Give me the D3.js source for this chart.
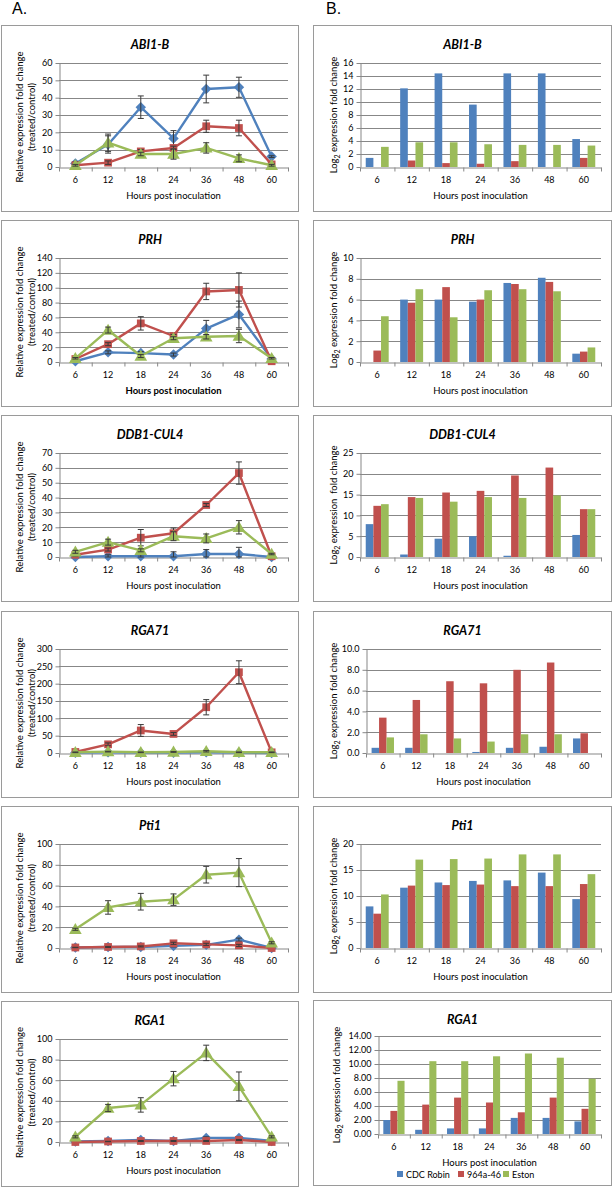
<!DOCTYPE html>
<html>
<head>
<meta charset="utf-8">
<script src="https://cdn.jsdelivr.net/npm/d3@7"></script>
<style>
  body { margin: 0; background: #fff; }
  text { font-family: Lato, "Open Sans", sans-serif; fill: #000; }
</style>
</head>
<body>
<svg id="fig" width="613" height="1188"></svg>
<script>
const hours = ['6', '12', '18', '24', '36', '48', '60']
const cultivars = ['CDC Robin', '964a-46', 'Eston']
const colors = ['#4F81BD', '#C0504D', '#9BBB59']
const genes = ['ABI1-B', 'PRH', 'DDB1-CUL4', 'RGA71', 'Pti1', 'RGA1']

// relative fold change (A), one row per cultivar
const abi1Fold = [[2, 13, 34.5, 16.5, 45, 46, 6], [1, 2.5, 9, 11, 23.5, 22.5, 1.5], [1, 14, 7.5, 7.5, 11, 5, 1]]
const abi1Err = [[1, 5, 6.5, 4.5, 8, 5.8, 0.5], [0.5, 1, 1, 1, 3.5, 4.5, 0.5], [0.5, 5, 1, 3, 3, 2, 0.5]]
const prhFold = [[1, 13, 12, 10, 45, 64, 4], [4, 24, 52, 35, 95, 97, 1], [5, 43, 8, 32, 34, 35, 5]]
const prhErr = [[1, 2, 2, 2, 11, 18, 1], [1, 2, 9, 2, 11, 23, 1], [1, 4, 2, 2, 3, 9, 1]]
const ddb1Fold = [[0, 0.5, 0.5, 0.5, 2, 2, 0], [1.5, 5, 13, 16, 35, 56.5, 0.5], [3.5, 10, 4.5, 14, 12.5, 20, 2]]
const ddb1Err = [[0.5, 1, 1, 3, 3, 4.5, 0], [1, 1, 5.5, 3.5, 1, 7.5, 0.5], [1, 2, 1, 3, 3, 4.5, 0.5]]
const rga71Fold = [[1, 2, 1, 1, 2, 1, 0], [3, 25, 65, 55, 132, 233, 2], [2, 4, 2, 3, 5, 2, 2]]
const rga71Err = [[0.5, 1, 0.5, 0.5, 1, 0.5, 0], [2, 4, 17, 4, 22, 33, 1], [1, 1, 1, 1, 2, 1, 1]]
const pti1Fold = [[0.5, 1, 1, 2, 3, 8, 0], [0.5, 1, 1.5, 4.5, 3.5, 2.5, 0], [18, 39, 44.5, 46.5, 70.5, 72.5, 5]]
const pti1Err = [[0.2, 0.5, 0.5, 1, 1, 1.5, 0], [0.2, 0.5, 0.5, 1, 1, 1, 0], [1, 6.5, 8, 5.5, 8, 13.5, 1]]
const rga1Fold = [[0.5, 1, 2, 1, 4, 4, 1], [0, 0.5, 1, 1, 1, 2, 0], [5, 33, 36, 61.5, 86.5, 54, 5]]
const rga1Err = [[0.2, 0.5, 0.5, 0.5, 1, 1, 0.2], [0, 0.2, 0.5, 0.5, 0.5, 0.5, 0], [1, 3.5, 7, 7, 7.5, 14, 1]]

// log2 fold change (B)
const abi1Log2 = [[1.4, 12.1, 14.4, 9.6, 14.4, 14.4, 4.3], [0, 1.0, 0.6, 0.5, 0.9, 0, 1.4], [3.1, 3.8, 3.8, 3.5, 3.4, 3.4, 3.3]]
const prhLog2 = [[0, 6.0, 6.0, 5.8, 7.6, 8.1, 0.8], [1.1, 5.7, 7.2, 6.0, 7.5, 7.7, 1.0], [4.4, 7.0, 4.3, 6.9, 7.0, 6.8, 1.4]]
const ddb1Log2 = [[7.9, 0.6, 4.4, 5.0, 0.3, 0, 5.3], [12.3, 14.4, 15.5, 15.9, 19.6, 21.5, 11.5], [12.7, 14.2, 13.3, 14.4, 14.2, 14.8, 11.5]]
const rga71Log2 = [[0.5, 0.5, 0, 0.1, 0.5, 0.6, 1.4], [3.4, 5.1, 6.9, 6.7, 8.0, 8.7, 1.9], [1.5, 1.8, 1.4, 1.1, 1.8, 1.8, 0]]
const pti1Log2 = [[8.0, 11.6, 12.6, 12.9, 13.0, 14.5, 9.4], [6.6, 12.0, 12.1, 12.2, 11.9, 11.9, 12.3], [10.3, 17.0, 17.1, 17.2, 18.0, 18.0, 14.2]]
const rga1Log2 = [[2.0, 0.6, 0.8, 0.8, 2.3, 2.3, 1.8], [3.3, 4.2, 5.2, 4.5, 3.1, 5.2, 3.6], [7.6, 10.4, 10.4, 11.1, 11.5, 10.9, 7.9]]

// axis ranges
const foldMax = [60, 140, 70, 300, 100, 100]
const foldStep = [10, 20, 10, 50, 20, 20]
const log2Max = [16, 10, 25, 10, 20, 14]
const log2Step = [2, 2, 5, 2, 5, 2]
const log2Fmt = ['d', 'd', 'd', '.1f', 'd', '.2f']

const foldData = [abi1Fold, prhFold, ddb1Fold, rga71Fold, pti1Fold, rga1Fold]
const foldErr = [abi1Err, prhErr, ddb1Err, rga71Err, pti1Err, rga1Err]
const log2Data = [abi1Log2, prhLog2, ddb1Log2, rga71Log2, pti1Log2, rga1Log2]

const GRID = '#878787'
const BORDER = '#9a9a9a'
const FS = 9.5
const TICK_FS = 9

const svg = d3.select('#fig')

svg.append('text').attr('x', 12).attr('y', 14).style('font-family', '"Liberation Sans", Arial, sans-serif')
  .style('font-size', '16px').text('A.')
svg.append('text').attr('x', 326).attr('y', 14).style('font-family', '"Liberation Sans", Arial, sans-serif')
  .style('font-size', '16px').text('B.')

const panelTop = i => Math.round(25 + i * 195.2)

function frame(g, w, h, title) {
  g.append('rect')
    .attr('x', 0.5).attr('y', 0.5)
    .attr('width', w - 1).attr('height', h - 1)
    .attr('fill', '#fff').attr('stroke', BORDER)
  g.append('text')
    .attr('x', w / 2).attr('y', 24)
    .attr('text-anchor', 'middle')
    .style('font-size', '12.5px').style('font-weight', 'bold').style('font-style', 'italic')
    .text(title)
}

function axes(g, x, y, ticks, fmt, top, bottom, titleBold) {
  const [x0, x1] = x.range()
  // gridlines
  g.append('g').selectAll('line')
    .data(ticks.filter(t => t > 0))
    .enter().append('line')
    .attr('x1', x0).attr('x2', x1)
    .attr('y1', d => Math.round(y(d)) + 0.5).attr('y2', d => Math.round(y(d)) + 0.5)
    .attr('stroke', GRID).attr('stroke-width', 1)

  const ya = g.append('g').attr('transform', `translate(${Math.round(x0) + 0.5},0)`)
    .call(d3.axisLeft(y).tickValues(ticks).tickFormat(d3.format(fmt)).tickSize(4).tickSizeOuter(0).tickPadding(3))
  ya.selectAll('text').style('font-size', TICK_FS + 'px')
  ya.selectAll('line,path').attr('stroke', GRID)

  // category boundary tick marks
  const edge = d3.scaleLinear().domain([0, hours.length]).range([x0, x1])
  const xt = g.append('g').attr('transform', `translate(0,${Math.round(bottom) + 0.5})`)
    .call(d3.axisBottom(edge).tickValues(d3.range(hours.length + 1)).tickFormat('').tickSize(4).tickSizeOuter(0))
  xt.selectAll('line,path').attr('stroke', GRID)

  const xl = g.append('g').attr('transform', `translate(0,${bottom})`)
    .call(d3.axisBottom(x).tickSize(0).tickPadding(10))
  xl.select('.domain').remove()
  xl.selectAll('text').style('font-size', TICK_FS + 'px')

  g.append('text')
    .attr('x', (x0 + x1) / 2).attr('y', bottom + 32)
    .attr('text-anchor', 'middle')
    .style('font-size', FS + 'px')
    .style('font-weight', titleBold ? 'bold' : 'normal')
    .text('Hours post inoculation')
}

function linePanel(i) {
  const w = 298, h = i === 5 ? 186 : 187
  const top = 38, bottom = i === 5 ? 141 : 142
  const g = svg.append('g').attr('transform', `translate(1,${panelTop(i)})`)
  frame(g, w, h, genes[i])

  const x = d3.scaleBand().domain(hours).range([58, 287])
  const y = d3.scaleLinear().domain([0, foldMax[i]]).range([bottom, top])
  const ticks = d3.range(0, foldMax[i] + foldStep[i] / 2, foldStep[i])
  axes(g, x, y, ticks, 'd', top, bottom, i === 1)

  const yt = g.append('text')
    .attr('transform', `translate(0,${(top + bottom) / 2 + 2}) rotate(-90)`)
    .attr('text-anchor', 'middle')
    .style('font-size', FS + 'px')
  yt.append('tspan').attr('x', 0).attr('y', 22).text('Relative expression fold change')
  yt.append('tspan').attr('x', 0).attr('y', 34).text('(treated/control)')

  const cx = h => x(h) + x.bandwidth() / 2
  const markers = [
    d3.symbol().type(d3.symbolDiamond2).size(70),
    d3.symbol().type(d3.symbolSquare).size(60),
    d3.symbol().type(d3.symbolTriangle).size(70)
  ]
  const line = d3.line().x(d => cx(d.h)).y(d => y(d.v))

  foldData[i].forEach((vals, s) => {
    const pts = vals.map((v, k) => ({ h: hours[k], v, e: foldErr[i][s][k] }))
    const sg = g.append('g')
    sg.append('path')
      .attr('d', line(pts))
      .attr('fill', 'none')
      .attr('stroke', colors[s])
      .attr('stroke-width', 2.4)
      .attr('stroke-linejoin', 'round')
    sg.selectAll('path.mk')
      .data(pts).enter().append('path')
      .attr('class', 'mk')
      .attr('transform', d => `translate(${cx(d.h)},${y(d.v) + (s === 2 ? 1 : 0)})`)
      .attr('d', markers[s]())
      .attr('fill', colors[s])
    const eb = sg.selectAll('g.eb')
      .data(pts.filter(d => d.e > 0)).enter().append('g')
      .attr('stroke', '#3a3a3a').attr('stroke-width', 1)
    eb.append('line')
      .attr('x1', d => cx(d.h)).attr('x2', d => cx(d.h))
      .attr('y1', d => y(d.v + d.e)).attr('y2', d => y(Math.max(0, d.v - d.e)))
    eb.append('line')
      .attr('x1', d => cx(d.h) - 3).attr('x2', d => cx(d.h) + 3)
      .attr('y1', d => y(d.v + d.e)).attr('y2', d => y(d.v + d.e))
    eb.append('line')
      .attr('x1', d => cx(d.h) - 3).attr('x2', d => cx(d.h) + 3)
      .attr('y1', d => y(Math.max(0, d.v - d.e))).attr('y2', d => y(Math.max(0, d.v - d.e)))
  })
}

const barLeft = [47, 47, 47, 53, 47, 65]

function barPanel(i) {
  const last = i === 5
  const w = 299, h = last ? 186 : 187
  const top = last ? 36 : 38, bottom = last ? 134 : 142
  const g = svg.append('g').attr('transform', `translate(313,${panelTop(i) - (last ? 1 : 0)})`)
  frame(g, w, h, genes[i])

  const x0 = d3.scaleBand().domain(hours).range([barLeft[i], 288])
  const x1 = d3.scaleBand().domain(cultivars).range([0, x0.bandwidth()]).paddingInner(0).paddingOuter(0.75)
  const y = d3.scaleLinear().domain([0, log2Max[i]]).range([bottom, top])
  const ticks = d3.range(0, log2Max[i] + log2Step[i] / 2, log2Step[i])
  axes(g, x0, y, ticks, log2Fmt[i], top, bottom, false)

  const yt = g.append('text')
    .attr('transform', `translate(${last ? 27 : 24},${(top + bottom) / 2}) rotate(-90)`)
    .attr('text-anchor', 'middle')
    .style('font-size', FS + 'px')
  yt.append('tspan').text('Log')
  yt.append('tspan').attr('dy', 3).style('font-size', '7px').text('2')
  yt.append('tspan').attr('dy', -3).text(i === 2 ? ' expression\u00a0 fold change' : ' expression fold change')

  log2Data[i].forEach((vals, s) => {
    g.append('g').selectAll('rect')
      .data(vals.map((v, k) => ({ h: hours[k], v })))
      .enter().append('rect')
      .attr('x', d => x0(d.h) + x1(cultivars[s]))
      .attr('width', x1.bandwidth())
      .attr('y', d => y(d.v))
      .attr('height', d => y(0) - y(d.v))
      .attr('fill', colors[s])
  })

  if (last) {
    const lg = g.append('g').attr('transform', `translate(0,${h - 8})`)
    const lx = [84, 145, 190]
    const item = lg.selectAll('g').data(cultivars).enter().append('g')
      .attr('transform', (d, k) => `translate(${lx[k]},0)`)
    item.append('rect').attr('x', 0).attr('y', -7).attr('width', 6).attr('height', 6)
      .attr('fill', (d, k) => colors[k])
    item.append('text').attr('x', 9).attr('y', -0.5).style('font-size', TICK_FS + 'px').text(d => d)
  }
}

genes.forEach((gname, i) => {
  linePanel(i)
  barPanel(i)
})
</script>
</body>
</html>
